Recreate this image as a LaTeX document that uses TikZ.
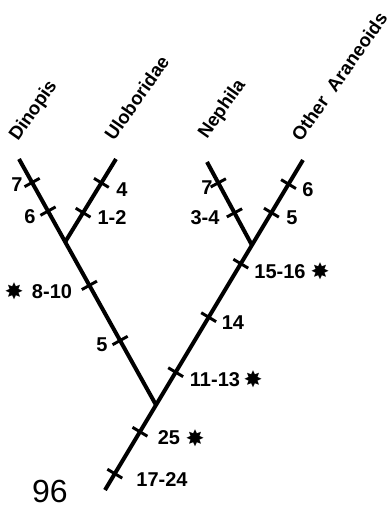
\documentclass[tikz,border=0pt]{standalone}
\usepackage{fontspec}
\setmainfont{Liberation Sans}
\newfontfamily\starfont{DejaVu Sans}
\usetikzlibrary{calc,positioning}
\tikzset{
  branch/.style={line width=3pt},
  tick mark/.style={line width=2.2pt},
  lbl/.style={font=\bfseries\fontsize{15}{15}\selectfont, inner sep=0pt},
  taxon/.style={font=\bfseries\fontsize{14}{14}\selectfont, rotate=55,
    anchor=base west, inner sep=0pt},
  starmark/.style={font=\starfont\fontsize{17}{17}\selectfont, inner sep=0pt},
}
% tick across a branch: name, from, to, rough point
\newcommand{\brtick}[4]{%
  \coordinate (#1) at ($(#2)!(#4)!(#3)$);
  \draw[tick mark] ($(#1)!6.5pt!90:(#3)$) -- ($(#1)!6.5pt!-90:(#3)$);
}

\begin{document}
\begin{tikzpicture}[x=0.75pt, y=-0.75pt]
  \useasboundingbox (0,0) rectangle (390,507);

  % Branch points
  \coordinate (root)  at (105,490);
  \coordinate (other) at (303,160);
  \coordinate (n0)    at ($(root)!0.2576!(other)$);
  \coordinate (nr)    at ($(root)!0.742!(other)$);
  \coordinate (dino)  at (19,159);
  \coordinate (nl)    at ($(n0)!0.663!(dino)$);
  \coordinate (ulob)  at (116,159);
  \coordinate (neph)  at (207,162);

  % Branches
  \draw[branch] (root) -- (other);
  \draw[branch] (n0) -- (dino);
  \draw[branch] (nl) -- (ulob);
  \draw[branch] (nr) -- (neph);

  % Taxa
  \node[taxon] (tdino)  at (18,142)  {Dinopis};
  \node[taxon] (tulob)  at (114,142) {Uloboridae};
  \node[taxon] (tneph)  at (207,140) {Nephila};
  \node[taxon] (tother) at (301,143) {Other\hspace{0.3em} Araneoids};

  % Dinopis / Uloboridae
  \brtick{kd7}{nl}{dino}{33,182}
  \brtick{kd6}{nl}{dino}{50,210}
  \brtick{ku4}{nl}{ulob}{100,182}
  \brtick{ku12}{nl}{ulob}{82,212}
  \node[lbl] (ld7)  at (17,185)  {7};
  \node[lbl] (ld6)  at (30,217)  {6};
  \node[lbl] (lu4)  at (122,190) {4};
  \node[lbl] (lu12) at (112,218) {1-2};

  % left stem
  \brtick{kl810}{n0}{nl}{90,285}
  \brtick{kl5}{n0}{nl}{121,340}
  \node[lbl] (ll810) at (52,292) {8-10};
  \node[starmark] (sl810) at (14,291) {✸};
  \node[lbl] (ll5) at (102,345) {5};

  % Nephila / Other Araneoids
  \brtick{kn7}{nr}{neph}{218,183}
  \brtick{kn34}{nr}{neph}{236,212}
  \brtick{ko6}{nr}{other}{290,185}
  \brtick{ko5}{nr}{other}{272,213}
  \node[lbl] (ln7)  at (207,188) {7};
  \node[lbl] (ln34) at (205,218) {3-4};
  \node[lbl] (lo6)  at (308,190) {6};
  \node[lbl] (lo5)  at (292,218) {5};

  % right stem
  \brtick{kr1516}{n0}{nr}{243,265}
  \brtick{kr14}{n0}{nr}{210,318}
  \brtick{kr1113}{n0}{nr}{177,373}
  \node[lbl] (lr1516) at (280,272) {15-16};
  \node[starmark] (sr1516) at (320,271) {✸};
  \node[lbl] (lr14) at (233,323) {14};
  \node[lbl] (lr1113) at (215,380) {11-13};
  \node[starmark] (sr1113) at (253,379) {✸};

  % root
  \brtick{k25}{root}{n0}{142,433}
  \brtick{k1724}{root}{n0}{117,475}
  \node[lbl] (l25) at (169,438) {25};
  \node[starmark] (s25) at (195,438) {✸};
  \node[lbl] (l1724) at (162,480) {17-24};

  \node[font=\fontsize{24}{24}\selectfont, inner sep=0pt] (fig) at (50,491) {96};

\end{tikzpicture}
\end{document}
